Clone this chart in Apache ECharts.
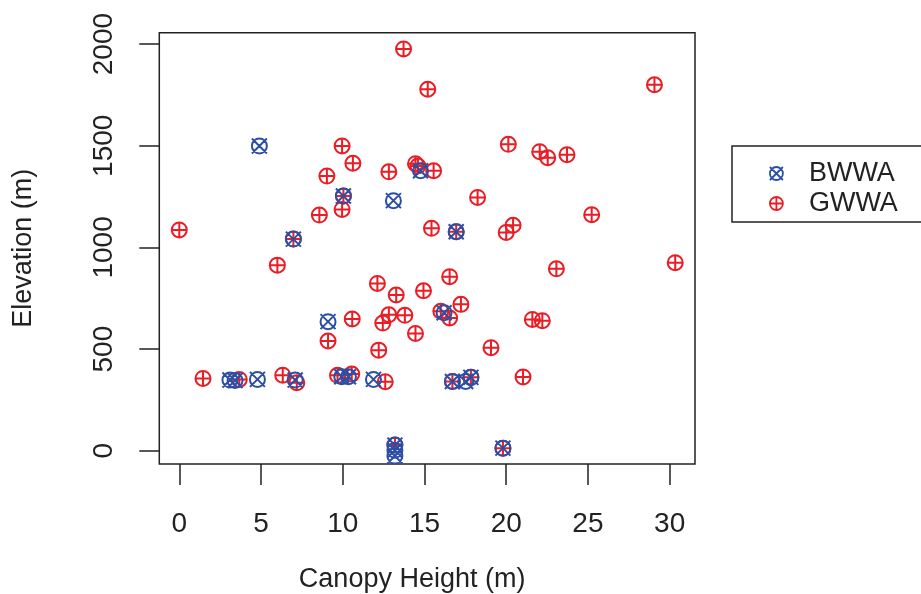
<!DOCTYPE html>
<html>
<head>
<meta charset="utf-8">
<script src="https://cdn.jsdelivr.net/npm/echarts@6/dist/echarts.min.js"></script>
<style>
  html, body { margin: 0; padding: 0; background: #fff; }
  #chart { width: 921px; height: 594px; }
</style>
</head>
<body>
<div id="chart"></div>
<script>
// Canopy height (m) and elevation (m) of survey points, per species
const bwwaHeight = [4.9, 10.04, 13.1, 14.76, 6.98, 16.94, 9.1, 16.2, 3.1, 3.41, 4.78, 7.09,
  9.94, 10.35, 11.88, 13.19, 13.19, 13.19, 19.8, 16.71, 17.52, 17.84];
const bwwaElev = [1499, 1253, 1230, 1377, 1041, 1077, 635, 679, 348, 346, 351, 348,
  364, 364, 351, 28, 3, -26, 13, 341, 341, 361];

const gwwaHeight = [13.72, 15.2, 29.07, 9.96, 20.13, 22.05, 23.72, 22.54, 14.45, 14.6, 15.56,
  10.62, 12.82, 9.03, 9.96, 10.04, 18.25, 8.57, 25.23, 0, 15.43, 20.42, 20.0, 16.94, 6.98,
  6.0, 30.34, 23.07, 16.54, 12.12, 14.94, 13.27, 17.23, 16.0, 16.54, 10.58, 12.82, 13.8,
  12.45, 21.6, 22.21, 14.45, 9.1, 19.07, 12.2, 1.45, 3.67, 6.33, 7.19, 9.68, 10.55, 12.6,
  21.03, 16.71, 17.84, 13.19, 19.8];
const gwwaElev = [1976, 1778, 1800, 1499, 1507, 1471, 1456, 1441, 1412, 1400, 1377,
  1414, 1372, 1351, 1187, 1253, 1246, 1159, 1161, 1086, 1094, 1109, 1074, 1077, 1041,
  913, 925, 895, 856, 823, 787, 766, 720, 686, 653, 648, 669, 666,
  628, 646, 640, 577, 540, 507, 495, 356, 351, 372, 335, 371, 377, 340,
  363, 341, 361, 28, 13];

const xTicks = [0, 5, 10, 15, 20, 25, 30];
const yTicks = [0, 500, 1000, 1500, 2000];
const seriesNames = ['BWWA', 'GWWA'];

const FONT = '"Liberation Sans", Arial, Helvetica, sans-serif';
const INK = '#222222';
const BLUE = '#2c4fa6';
const RED = '#ec1c24';

// circle with an X through it, and circle with a plus
const SYM_CIRCLE_X = 'path://M10,0 A10,10 0 1 1 -10,0 A10,10 0 1 1 10,0 Z M-10,-10 L10,10 M-10,10 L10,-10';
const SYM_CIRCLE_PLUS = 'path://M10,0 A10,10 0 1 1 -10,0 A10,10 0 1 1 10,0 Z M-10,0 L10,0 M0,-10 L0,10';

const zip = (xs, ys) => xs.map((x, i) => [x, ys[i]]);
const plain = v => String(v);

const chart = echarts.init(document.getElementById('chart'), null, { renderer: 'canvas' });

chart.setOption({
  backgroundColor: '#ffffff',
  animation: false,
  grid: {
    show: true,
    left: 159.3, top: 32.7, width: 535.7, height: 431.3,
    borderColor: INK, borderWidth: 1.5,
    backgroundColor: 'transparent',
    outerBoundsMode: 'none'
  },
  xAxis: {
    type: 'value',
    min: -1.223, max: 31.55,
    splitLine: { show: false },
    axisLine: { show: false, onZero: false },
    axisTick: {
      show: true, inside: false, length: 21,
      customValues: xTicks,
      lineStyle: { color: INK, width: 1.5 }
    },
    axisLabel: {
      customValues: xTicks,
      formatter: plain,
      fontFamily: FONT, fontSize: 28, color: INK, margin: 46
    },
    name: 'Canopy Height (m)',
    nameLocation: 'middle',
    nameGap: 102,
    nameTextStyle: { fontFamily: FONT, fontSize: 27, color: INK, padding: [0, 30, 0, 0] }
  },
  yAxis: {
    type: 'value',
    min: -65, max: 2056,
    splitLine: { show: false },
    axisLine: { show: false, onZero: false },
    axisTick: {
      show: true, inside: false, length: 20,
      customValues: yTicks,
      lineStyle: { color: INK, width: 1.5 }
    },
    axisLabel: {
      customValues: yTicks,
      formatter: plain,
      rotate: 90,
      fontFamily: FONT, fontSize: 28, color: INK, margin: 41
    },
    name: 'Elevation (m)',
    nameLocation: 'middle',
    nameGap: 122,
    nameRotate: 90,
    nameTextStyle: { fontFamily: FONT, fontSize: 27, color: INK }
  },
  legend: {
    data: seriesNames,
    orient: 'vertical',
    left: 732, top: 146,
    padding: [14, 60, 5, 37],
    itemGap: 3,
    itemWidth: 13, itemHeight: 13,
    borderColor: INK, borderWidth: 1.5,
    backgroundColor: '#ffffff',
    textStyle: { fontFamily: FONT, fontSize: 27, color: INK, padding: [0, 0, 0, 21] },
    itemStyle: { borderWidth: 1.8 }
  },
  series: [
    {
      name: 'GWWA',
      type: 'scatter',
      data: zip(gwwaHeight, gwwaElev),
      symbol: SYM_CIRCLE_PLUS,
      symbolKeepAspect: true,
      symbolSize: 15,
      z: 2,
      itemStyle: { color: 'rgba(0,0,0,0)', borderColor: RED, borderWidth: 2, opacity: 1 }
    },
    {
      name: 'BWWA',
      type: 'scatter',
      data: zip(bwwaHeight, bwwaElev),
      symbol: SYM_CIRCLE_X,
      symbolKeepAspect: true,
      symbolSize: 15,
      z: 3,
      itemStyle: { color: 'rgba(0,0,0,0)', borderColor: BLUE, borderWidth: 2, opacity: 1 }
    }
  ]
});
</script>
</body>
</html>
